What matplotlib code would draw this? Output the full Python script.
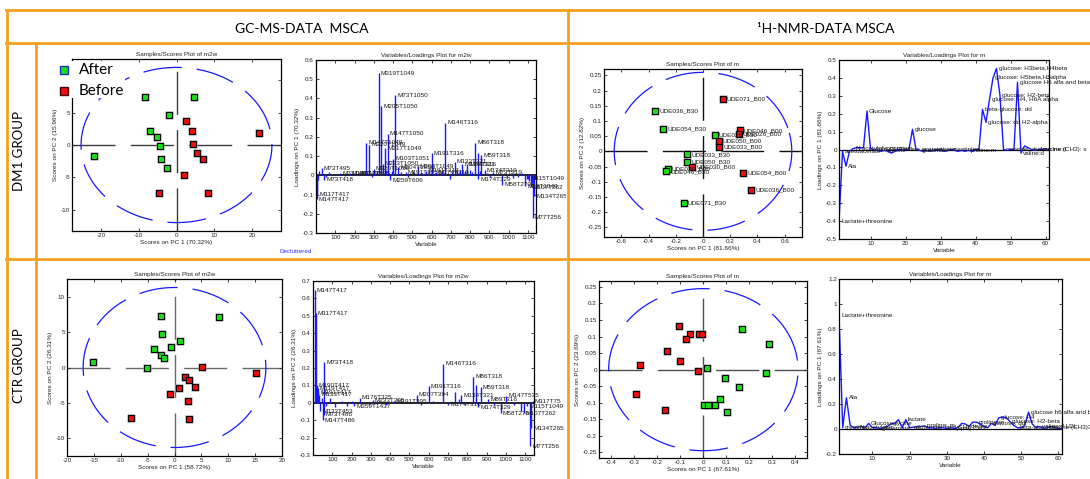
import matplotlib
matplotlib.use('Agg')
import matplotlib.pyplot as plt
import numpy as np
from matplotlib.patches import Rectangle
from matplotlib.lines import Line2D
from matplotlib.transforms import Bbox, TransformedBbox, offset_copy
from matplotlib.ticker import FuncFormatter

# ---------------------------------------------------------------
# data
# ---------------------------------------------------------------

# GC-MS, DM1 group, scores (PC1 / PC2)
gc_dm1_after_x = [-8.3, 4.6, -2.1, -6.9, -5.3, -4.3, -4.0, -2.5, -21.9]
gc_dm1_after_y = [7.5, 7.5, 4.6, 2.1, 1.3, -0.2, -2.1, -3.6, -1.7]
gc_dm1_before_x = [2.5, 4.1, 4.4, 5.4, 7.0, 2.1, -4.6, 8.4, 21.9]
gc_dm1_before_y = [3.7, 2.2, 0.2, -1.3, -2.1, -4.6, -7.4, -7.4, 1.8]
gc_dm1_ellipse = (25.3, 12.0)

# GC-MS, CTR group, scores
gc_ctr_after_x = [-2.5, 8.3, -2.4, 1.0, -3.9, -0.7, -2.5, -2.0, -15.1, -5.2]
gc_ctr_after_y = [7.3, 7.1, 4.7, 3.7, 2.6, 2.9, 1.7, 1.4, 0.8, -0.1]
gc_ctr_before_x = [5.2, 15.1, 2.0, 2.7, 3.9, 0.8, -0.8, 2.6, -8.1, 2.7]
gc_ctr_before_y = [0.1, -0.8, -1.4, -1.7, -2.7, -2.9, -3.7, -4.7, -7.2, -7.3]
gc_ctr_ellipse = (17.0, 11.3)

# NMR, DM1 group, scores with sample names
nmr_dm1_after_names = ['UDE036_B30', 'UDE054_B30', 'UDE026_B30', 'UDE033_B30',
                       'UDE050_B30', 'UDE030_B30', 'UDE046_B30', 'UDE071_B30']
nmr_dm1_after_x = [-0.350, -0.294, 0.086, -0.118, -0.118, -0.260, -0.269, -0.142]
nmr_dm1_after_y = [0.132, 0.073, 0.053, -0.010, -0.034, -0.057, -0.066, -0.170]
nmr_dm1_before_names = ['UDE071_B00', 'UDE046_B00', 'UDE026_B00', 'UDE050_B00',
                        'UDE033_B00', 'UDE030_B00', 'UDE054_B00', 'UDE036_B00']
nmr_dm1_before_x = [0.145, 0.269, 0.262, 0.115, 0.120, -0.081, 0.296, 0.355]
nmr_dm1_before_y = [0.173, 0.069, 0.058, 0.035, 0.014, -0.052, -0.070, -0.128]
nmr_dm1_ellipse = (0.652, 0.260)

# NMR, CTR group, scores
nmr_ctr_before_x = [-0.107, -0.057, -0.019, -0.006, -0.074, -0.157, -0.100, -0.275, -0.022, -0.291, -0.168]
nmr_ctr_before_y = [0.132, 0.109, 0.109, 0.109, 0.092, 0.055, 0.027, 0.013, -0.004, -0.075, -0.121]
nmr_ctr_after_x = [0.167, 0.287, 0.017, 0.274, 0.096, 0.154, 0.071, 0.003, 0.019, 0.052, 0.103]
nmr_ctr_after_y = [0.124, 0.077, 0.006, -0.010, -0.024, -0.053, -0.090, -0.106, -0.106, -0.108, -0.129]
nmr_ctr_ellipse = (0.412, 0.245)

# GC-MS loadings, DM1 (PC1)
gc_dm1_var = [4, 7, 8, 15, 30, 44, 52, 65, 90, 125, 150, 176, 200, 221, 245, 260, 276, 290, 300,
              315, 326, 339, 347, 358, 365, 372, 384, 392, 401, 412, 426, 440, 466, 480, 505, 527,
              550, 571, 585, 600, 623, 640, 655, 670, 693, 705, 719, 730, 745, 759, 772, 785, 800,
              812, 825, 839, 843, 850, 857, 876, 890, 905, 920, 940, 967, 990, 1010, 1024, 1050,
              1070, 1085, 1095, 1103, 1108, 1115, 1120, 1124, 1128, 1133, 1138]
gc_dm1_load = [-0.125, -0.10, -0.026, 0.02, 0.038, -0.022, -0.01, 0.016, 0.008, 0.012, -0.006,
               0.012, 0.01, 0.010, 0.02, 0.170, 0.160, -0.008, 0.035, 0.025, 0.530, 0.360, 0.060,
               0.140, 0.03, 0.217, -0.026, 0.02, 0.087, 0.417, 0.043, 0.015, 0.017, -0.01, 0.02,
               0.047, 0.012, 0.023, 0.03, 0.116, 0.017, 0.01, 0.02, 0.273, -0.017, 0.015, 0.071,
               0.03, 0.026, 0.057, 0.02, 0.054, 0.03, 0.017, 0.170, 0.116, -0.020, 0.02, 0.104,
               0.026, 0.01, -0.01, 0.017, 0.008, -0.049, -0.01, 0.01, -0.012, -0.01, 0.012, -0.056,
               -0.02, -0.017, -0.03, -0.061, -0.04, -0.220, -0.06, -0.110, -0.02]
gc_dm1_lab_var = [326, 412, 339, 670, 372, 276, 358, 600, 825, 857, 401, 347, 759, 7, 4, 44, 30,
                  384, 843, 967, 1115, 1133, 1124, 260, 300, 426, 527, 571, 719, 785, 876, 920,
                  1085, 1103, 125, 176, 221, 466, 623]
gc_dm1_lab_txt = ['M319T1049', 'M73T1050', 'M205T1050', 'M146T316', 'M147T1050', 'M320T1049',
                  'M217T1049', 'M191T316', 'M86T318', 'M59T318', 'M103T1051', 'M233T1050',
                  'M134T321', 'M117T417', 'M147T417', 'M73T418', 'M73T495', 'M259T606',
                  'M174T329', 'M58T270', 'M107T262', 'M134T265', 'M77T256', 'M147T1049',
                  'M320T1050', 'M204T1050', 'M204T1049', 'M191T317', 'M133T321', 'M89T316',
                  'M174T319', 'M73T319', 'M39T1049', 'M115T1049', 'M73T477', 'M147T495',
                  'M117T495', 'M191T1050', 'M174T316']

# GC-MS loadings, CTR (PC2)
gc_ctr_var = [9, 14, 19, 24, 28, 31, 38, 45, 50, 55, 59, 70, 88, 114, 150, 174, 200, 215, 243,
              290, 310, 330, 380, 420, 538, 560, 600, 620, 676, 700, 734, 755, 769, 790, 831,
              846, 857, 869, 909, 940, 974, 1002, 1040, 1078, 1093, 1110, 1126, 1133, 1140]
gc_ctr_load = [0.648, 0.514, 0.102, 0.083, 0.06, 0.045, -0.05, 0.025, -0.10, -0.07, 0.233,
               -0.02, 0.025, -0.023, 0.01, -0.02, 0.008, -0.02, 0.03, -0.015, 0.015, 0.01,
               -0.01, 0.008, 0.045, -0.01, 0.095, 0.01, 0.225, -0.01, 0.06, 0.02, 0.044, -0.01,
               0.15, 0.1, -0.025, 0.09, 0.02, -0.01, -0.06, 0.04, -0.01, -0.05, -0.06, -0.02,
               -0.25, -0.145, 0.01]
gc_ctr_lab_var = [9, 14, 59, 19, 24, 28, 31, 38, 55, 50, 243, 215, 310, 538, 600, 676, 769, 831,
                  869, 909, 857, 1002, 974, 1110, 1093, 1133, 1126, 1140, 420, 700]
gc_ctr_lab_txt = ['M147T417', 'M117T417', 'M73T418', 'M190T417', 'M119T417', 'M191T417',
                  'M133T417', 'M133T453', 'M73T486', 'M147T486', 'M176T325', 'M359T1437',
                  'M233T395', 'M207T394', 'M191T316', 'M146T316', 'M134T321', 'M86T318',
                  'M59T318', 'M89T316', 'M174T329', 'M147T535', 'M58T270', 'M115T1049',
                  'M107T262', 'M134T265', 'M77T256', 'M117T75', 'M191T395', 'M174T316']

# NMR loadings (variables 1..61)
nmr_var = list(range(1, 62))
nmr_dm1_load = [-0.40, -0.01, -0.093, -0.01, 0.005, 0.01, 0.01, 0.01, 0.215, 0.005,
                0.0, -0.005, -0.01, -0.005, -0.01, -0.02, -0.01, 0.0, -0.005, 0.0,
                0.0, 0.113, 0.0, -0.005, -0.01, -0.005, -0.01, -0.005, 0.0, -0.005,
                -0.01, -0.005, 0.0, -0.005, -0.01, -0.005, -0.01, -0.005, -0.01, 0.0,
                0.0, 0.224, 0.152, 0.28, 0.40, 0.453, 0.30, 0.0, -0.005, 0.0,
                0.0, 0.375, -0.02, 0.02, 0.01, 0.0, -0.005, 0.0, 0.0, 0.005, 0.0]
nmr_dm1_lab_var = [1, 3, 9, 22, 42, 43, 44, 45, 46, 47, 52, 2, 5, 11, 14, 18, 24, 29, 33, 38,
                   48, 53, 56, 58]
nmr_dm1_lab_txt = ['Lactate+threonine', 'Ala', 'Glucose', 'glucose', 'beta-glucose: dd',
                   'glucose: dd H2-alpha', 'glucose: H4, H6A alpha', 'glucose: H5beta,H5alpha',
                   'glucose: H3beta,H4beta', 'glucose: H2-beta', 'glucose H6 alfa and beta',
                   'acetoacetate', 'N-acetylglycoprotein', 'lipid CH2', 'glycine',
                   'lactate acetate', 'glutamine', 'citrate', 'creatinine', 'proline:m',
                   'creatine: s', 'valine:d', 'isoleucine:d', 'leucine (CH3): s']

nmr_ctr_load = [0.91, 0.01, 0.25, 0.03, 0.01, 0.015, 0.02, 0.01, 0.045, 0.01,
                0.01, 0.005, 0.01, 0.02, 0.04, 0.045, 0.075, 0.01, 0.075, 0.01,
                0.015, 0.02, 0.02, 0.025, 0.01, 0.01, 0.005, 0.01, 0.01, 0.005,
                0.01, 0.005, 0.01, 0.045, 0.04, 0.02, 0.055, 0.055, 0.04, 0.02,
                0.01, 0.045, 0.03, 0.09, 0.095, 0.09, 0.06, 0.03, 0.01, 0.01,
                0.03, 0.135, 0.04, 0.01, 0.02, 0.005, 0.01, 0.02, 0.01, 0.005, 0.0]
nmr_ctr_lab_var = [1, 3, 19, 52, 47, 38, 9, 2, 6, 12, 15, 21, 24, 29, 32, 36, 42, 44, 49, 55, 57]
nmr_ctr_lab_txt = ['Lactate+threonine', 'Ala', 'lactate', 'glucose h6 alfa and beta',
                   'glucose: H2-beta', 'proline:m', 'Glucose', 'creatine', 'N-acetylglyc',
                   'glutamate: m', 'glycine', 'glutamine', 'proline: m', 'lipid CH2',
                   '(lipid) CH3', 'citrate', 'glucose: dd', 'glucose: H4', 'beta-glucose',
                   'valine:d LDL', 'choline (CH3)3']

# ---------------------------------------------------------------
W, H = 1090, 479
fig = plt.figure(figsize=(W / 100, H / 100), dpi=100)
plt.rcParams['font.family'] = ['Liberation Sans', 'DejaVu Sans']

SMALL = 4.6
HEAD = 'Lato'
ORANGE = '#F7A01E'
GREEN = '#18E018'
RED = '#E81010'
BLUE = '#1818FF'

fmt = FuncFormatter(lambda v, p: f'{round(v, 4) + 0:g}')


def box(l, t, r, b):
    return [l / W, 1 - b / H, (r - l) / W, (b - t) / H]


def fx(x):
    return x / W


def fy(y):
    return 1 - y / H


def cell(l, t, r, b):
    return TransformedBbox(Bbox.from_extents(fx(l), fy(b), fx(r), fy(t)), fig.transFigure)


def frame(ax, xlim, ylim, xticks, yticks, title, xlabel, ylabel):
    ax.set_xlim(*xlim)
    ax.set_ylim(*ylim)
    ax.set_xticks(xticks)
    ax.set_yticks(yticks)
    ax.xaxis.set_major_formatter(fmt)
    ax.yaxis.set_major_formatter(fmt)
    ax.tick_params(direction='in', top=True, right=True, length=2.2, width=0.6,
                   labelsize=4.5, pad=1.5, colors='#222222')
    for s in ax.spines.values():
        s.set_linewidth(0.9)
    ax.set_title(title, fontsize=SMALL, pad=2.5, color='#222222')
    ax.set_xlabel(xlabel, fontsize=SMALL, labelpad=1.5, color='#222222')
    ax.set_ylabel(ylabel, fontsize=SMALL, labelpad=2, color='#222222')


def scores(ax, ax_, ay_, bx_, by_, ell, cross):
    ax.axhline(0, color=cross, lw=1.0, dashes=(31, 11), zorder=1)
    ax.axvline(0, color=cross, lw=1.0, dashes=(31, 11), zorder=1)
    t = np.linspace(0, 2 * np.pi, 400)
    ax.plot(ell[0] * np.cos(t + 0.3), ell[1] * np.sin(t + 0.3), color=BLUE, lw=0.9,
            dashes=(31, 12), zorder=2)
    for xs, ys, c in ((ax_, ay_, GREEN), (bx_, by_, RED)):
        ax.plot(xs, ys, 's', ms=6.2, color='#a0a0a0', mec='none', ls='none', zorder=3)
        ax.plot(xs, ys, 's', ms=4.7, mfc=c, mec='black', mew=0.8, ls='none', zorder=4)


def labels(ax, xs, ys, texts, clip, dx=1.5):
    tr = offset_copy(ax.transData, fig=fig, x=dx, y=0, units='points')
    for x, y, s in zip(xs, ys, texts):
        t = ax.text(x, y, s, transform=tr, fontsize=SMALL, va='center', ha='left',
                    color='#1a1a1a', zorder=5)
        t.set_clip_path(None)
        t.set_clip_box(clip)
        t.set_clip_on(True)


def stems(ax, var, load, lab_var, lab_txt, clip):
    ax.axhline(0, color='black', lw=1.2, zorder=1)
    ax.vlines(var, 0, load, color=BLUE, lw=1.0, zorder=2)
    lookup = dict(zip(var, load))
    labels(ax, lab_var, [lookup[v] for v in lab_var], lab_txt, clip)


def line(ax, var, load, lab_var, lab_txt, clip):
    ax.axhline(0, color='black', lw=0.9, zorder=1)
    ax.plot(var, load, color=BLUE, lw=1.0, zorder=2)
    labels(ax, lab_var, [load[v - 1] for v in lab_var], lab_txt, clip)


# ---------------- top row: DM1 ----------------
a1 = fig.add_axes(box(72, 59, 281, 231))
scores(a1, gc_dm1_after_x, gc_dm1_after_y, gc_dm1_before_x, gc_dm1_before_y, gc_dm1_ellipse, '#3a3a3a')
frame(a1, (-27.7, 27.7), (-13.3, 13.3), [-20, -10, 0, 10, 20], [-10, -5, 0, 5, 10],
      'Samples/Scores Plot of m2w', 'Scores on PC 1 (70.32%)', 'Scores on PC 2 (15.96%)')

a2 = fig.add_axes(box(316, 60, 536, 233))
stems(a2, gc_dm1_var, gc_dm1_load, gc_dm1_lab_var, gc_dm1_lab_txt, cell(36, 44, 566, 258))
frame(a2, (0, 1142), (-0.3, 0.6), list(range(100, 1101, 100)), np.arange(-0.3, 0.61, 0.1),
      'Variables/Loadings Plot for m2w', 'Variable', 'Loadings on PC 1 (70.32%)')

a3 = fig.add_axes(box(604, 69, 802, 237))
scores(a3, nmr_dm1_after_x, nmr_dm1_after_y, nmr_dm1_before_x, nmr_dm1_before_y, nmr_dm1_ellipse, '#111111')
labels(a3, nmr_dm1_after_x, nmr_dm1_after_y, nmr_dm1_after_names, cell(568, 44, 1090, 258), dx=3)
labels(a3, nmr_dm1_before_x, nmr_dm1_before_y, nmr_dm1_before_names, cell(568, 44, 1090, 258), dx=3)
frame(a3, (-0.727, 0.727), (-0.282, 0.271), np.arange(-0.6, 0.61, 0.2), np.arange(-0.25, 0.26, 0.05),
      'Samples/Scores Plot of m', 'Scores on PC 1 (81.66%)', 'Scores on PC 2 (12.82%)')

a4 = fig.add_axes(box(839, 60, 1049, 239))
line(a4, nmr_var, nmr_dm1_load, nmr_dm1_lab_var, nmr_dm1_lab_txt, cell(568, 44, 1090, 258))
frame(a4, (1, 61), (-0.5, 0.5), [10, 20, 30, 40, 50, 60], np.arange(-0.5, 0.51, 0.1),
      'Variables/Loadings Plot for m', 'Variable', 'Loadings on PC 1 (81.66%)')

# ---------------- bottom row: CTR ----------------
b1 = fig.add_axes(box(67, 279, 282, 456))
scores(b1, gc_ctr_after_x, gc_ctr_after_y, gc_ctr_before_x, gc_ctr_before_y, gc_ctr_ellipse, '#6a6a6a')
frame(b1, (-20, 20), (-12.5, 12.5), list(range(-20, 21, 5)), [-10, -5, 0, 5, 10],
      'Samples/Scores Plot of m2w', 'Scores on PC 1 (58.72%)', 'Scores on PC 2 (26.31%)')

b2 = fig.add_axes(box(313, 281, 534, 455))
stems(b2, gc_ctr_var, gc_ctr_load, gc_ctr_lab_var, gc_ctr_lab_txt, cell(36, 260, 566, 479))
frame(b2, (0, 1146), (-0.3, 0.7), list(range(100, 1101, 100)), np.arange(-0.3, 0.71, 0.1),
      'Variables/Loadings Plot for m2w', 'Variable', 'Loadings on PC 2 (26.31%)')

b3 = fig.add_axes(box(599, 281, 807, 458))
scores(b3, nmr_ctr_after_x, nmr_ctr_after_y, nmr_ctr_before_x, nmr_ctr_before_y, nmr_ctr_ellipse, '#505050')
frame(b3, (-0.454, 0.451), (-0.267, 0.268), np.arange(-0.4, 0.41, 0.1), np.arange(-0.25, 0.26, 0.05),
      'Samples/Scores Plot of m', 'Scores on PC 1 (67.61%)', 'Scores on PC 2 (23.69%)')

b4 = fig.add_axes(box(839, 279, 1062, 454))
line(b4, nmr_var, nmr_ctr_load, nmr_ctr_lab_var, nmr_ctr_lab_txt, cell(568, 260, 1090, 479))
frame(b4, (1, 61), (-0.2, 1.2), [10, 20, 30, 40, 50, 60], np.arange(-0.2, 1.21, 0.2),
      'Variables/Loadings Plot for m', 'Variable', 'Loadings on PC 1 (67.61%)')

# ---------------- table frame ----------------
grid = [((6, 10), (1090, 10)), ((6, 43.5), (1090, 43.5)), ((6, 259), (1090, 259)),
        ((6.5, 10), (6.5, 479)), ((36, 43.5), (36, 479)), ((567.5, 10), (567.5, 479))]
for (x0, y0), (x1, y1) in grid:
    fig.add_artist(Line2D([fx(x0), fx(x1)], [fy(y0), fy(y1)], transform=fig.transFigure,
                          color=ORANGE, lw=2.0, zorder=30))

fig.text(fx(302), fy(29), 'GC-MS-DATA  MSCA', fontsize=10, family=HEAD, ha='center', va='center')
fig.text(fx(826), fy(29), '¹H-NMR-DATA MSCA', fontsize=10, family=HEAD, ha='center', va='center')
fig.text(fx(19), fy(151), 'DM1 GROUP', fontsize=9.5, family=HEAD, rotation=90, ha='center', va='center')
fig.text(fx(19), fy(366), 'CTR GROUP', fontsize=9.5, family=HEAD, rotation=90, ha='center', va='center')

# legend pasted over the first scores plot
fig.add_artist(Rectangle((fx(40), fy(98)), 85 / W, 37 / H, transform=fig.transFigure,
                         facecolor='white', edgecolor='none', zorder=20))
fig.add_artist(Line2D([fx(64)], [fy(70)], marker='s', ms=5.2, mfc=GREEN, mec='#2030c0', mew=1.0,
                      ls='none', transform=fig.transFigure, zorder=21))
fig.add_artist(Line2D([fx(64)], [fy(91)], marker='s', ms=5.2, mfc=RED, mec='#500000', mew=1.0,
                      ls='none', transform=fig.transFigure, zorder=21))
fig.text(fx(79), fy(70), 'After', fontsize=11, family=HEAD, va='center', zorder=21)
fig.text(fx(79), fy(91), 'Before', fontsize=11, family=HEAD, va='center', zorder=21)
fig.text(fx(280), fy(251), 'Decluttered', fontsize=SMALL, color='#3030ff', va='center')

fig.savefig('out.png', dpi=100)
